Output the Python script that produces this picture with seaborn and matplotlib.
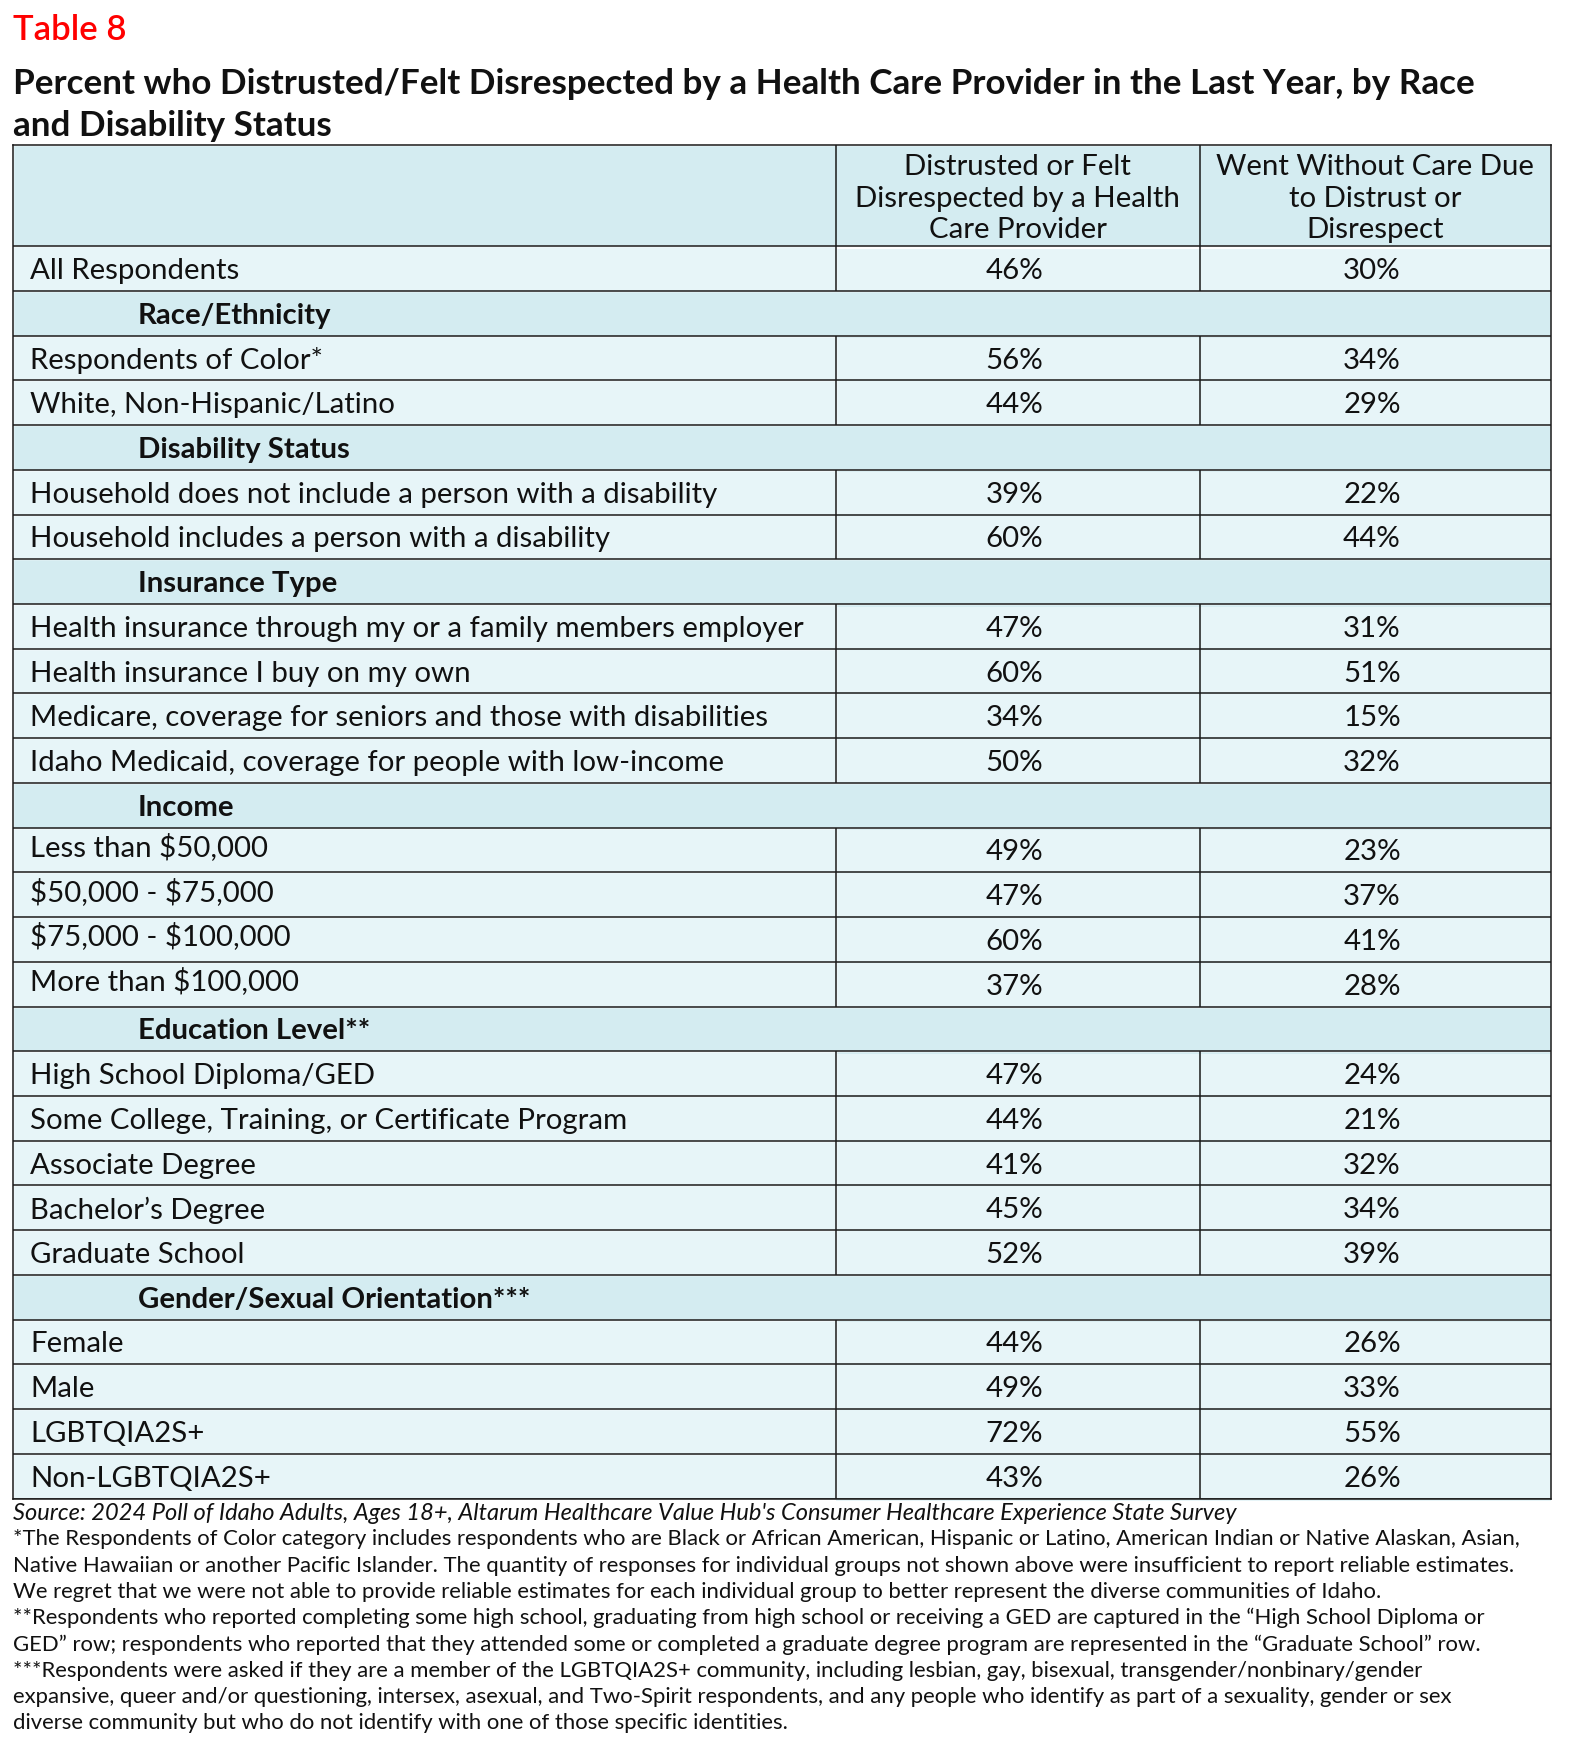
import numpy as np
import pandas as pd
import matplotlib
matplotlib.use("Agg")
import matplotlib.pyplot as plt
from matplotlib.colors import ListedColormap
import seaborn as sns

sns.set_theme(style="white")
plt.rcParams['font.family'] = ['Lato', 'DejaVu Sans']
plt.rcParams['text.parse_math'] = False

# ---------------- data ----------------
table_label = "Table 8"
title_lines = ["Percent who Distrusted/Felt Disrespected by a Health Care Provider in the Last Year, by Race",
               "and Disability Status"]
col_headers = ["Distrusted or Felt\nDisrespected by a Health\nCare Provider",
               "Went Without Care Due\nto Distrust or\nDisrespect"]

row_labels = ["All Respondents",
              "Race/Ethnicity",
              "Respondents of Color*", "White, Non-Hispanic/Latino",
              "Disability Status",
              "Household does not include a person with a disability",
              "Household includes a person with a disability",
              "Insurance Type",
              "Health insurance through my or a family members employer",
              "Health insurance I buy on my own",
              "Medicare, coverage for seniors and those with disabilities",
              "Idaho Medicaid, coverage for people with low-income",
              "Income",
              "Less than $50,000", "$50,000 - $75,000", "$75,000 - $100,000", "More than $100,000",
              "Education Level**",
              "High School Diploma/GED", "Some College, Training, or Certificate Program",
              "Associate Degree", "Bachelor\u2019s Degree", "Graduate School",
              "Gender/Sexual Orientation***",
              "Female", "Male", "LGBTQIA2S+", "Non-LGBTQIA2S+"]
is_section = [False, True, False, False, True, False, False, True, False, False, False, False,
              True, False, False, False, False, True, False, False, False, False, False,
              True, False, False, False, False]
distrusted = [46, None, 56, 44, None, 39, 60, None, 47, 60, 34, 50,
              None, 49, 47, 60, 37, None, 47, 44, 41, 45, 52, None, 44, 49, 72, 43]
went_without = [30, None, 34, 29, None, 22, 44, None, 31, 51, 15, 32,
                None, 23, 37, 41, 28, None, 24, 21, 32, 34, 39, None, 26, 33, 55, 26]

footnotes = [
    "*The Respondents of Color category includes respondents who are Black or African American, Hispanic or Latino, American Indian or Native Alaskan, Asian,",
    "Native Hawaiian or another Pacific Islander. The quantity of responses for individual groups not shown above were insufficient to report reliable estimates.",
    "We regret that we were not able to provide reliable estimates for each individual group to better represent the diverse communities of Idaho.",
    "**Respondents who reported completing some high school, graduating from high school or receiving a GED are captured in the \u201cHigh School Diploma or",
    "GED\u201d row; respondents who reported that they attended some or completed a graduate degree program are represented in the \u201cGraduate School\u201d row.",
    "***Respondents were asked if they are a member of the LGBTQIA2S+ community, including lesbian, gay, bisexual, transgender/nonbinary/gender",
    "expansive, queer and/or questioning, intersex, asexual, and Two-Spirit respondents, and any people who identify as part of a sexuality, gender or sex",
    "diverse community but who do not identify with one of those specific identities.",
]
source_line = "Source: 2024 Poll of Idaho Adults, Ages 18+, Altarum Healthcare Value Hub's Consumer Healthcare Experience State Survey"

# ---------------- layout (pixel coords) ----------------
W, H = 1572, 1747
HEAD_BG = "#d4ecf1"
ROW_BG = "#e7f5f8"
LINE = "#1a1a1a"
TXT = "#111111"
FS = 21.2
x0, x1, x2, x3 = 13.4, 835.6, 1199.9, 1550.8
ytop, yhead, ybot = 144.8, 246.2, 1498.5
n = len(row_labels)
rh = (ybot - yhead) / n
dy = 2.5            # slight downward text shift inside rows
raised_rows = {13, 14, 15, 16}   # income labels sit a little higher in the source

fig = plt.figure(figsize=(W / 100, H / 100), dpi=100)
fig.patch.set_facecolor("white")

def fx(x):
    return x / W

def fy(y):
    return 1 - y / H

# heatmap for value cells
vals = pd.DataFrame({"d": distrusted, "w": went_without}, dtype=float)
annot = vals.map(lambda v: "" if np.isnan(v) else f"{int(v)}%")
axh = fig.add_axes([fx(x1), fy(ybot + dy), fx(x3) - fx(x1), fy(yhead + dy) - fy(ybot + dy)])
sns.heatmap(vals, ax=axh, mask=vals.isna(), cmap=ListedColormap([ROW_BG]), cbar=False,
            annot=annot, fmt="", linewidths=0, xticklabels=False, yticklabels=False,
            annot_kws=dict(fontsize=FS, color=TXT, family=["Lato", "DejaVu Sans"]))
axh.set_facecolor(HEAD_BG)
for s in axh.spines.values():
    s.set_visible(False)

# main overlay axes (pixel coordinates)
ax = fig.add_axes([fx(x0), fy(ybot), fx(x3) - fx(x0), fy(ytop) - fy(ybot)], zorder=3)
ax.patch.set_alpha(0)
ax.set_xlim(x0, x3)
ax.set_ylim(ybot, ytop)
ax.set_xticks([]); ax.set_yticks([])
for s in ax.spines.values():
    s.set_visible(True); s.set_color(LINE); s.set_linewidth(1.1)

centers = np.array([yhead + (i + 0.5) * rh for i in range(n)])
sec = np.array(is_section)
# header background
ax.barh([(ytop + yhead) / 2], [x3 - x0], left=x0, height=yhead - ytop, color=HEAD_BG, zorder=1)
# label-column backgrounds
ax.barh(centers[~sec], [x1 - x0] * int((~sec).sum()), left=x0, height=rh, color=ROW_BG, zorder=1)
# section rows full width
ax.barh(centers[sec], [x3 - x0] * int(sec.sum()), left=x0, height=rh, color=HEAD_BG, zorder=1)

# grid lines
bounds = [yhead + i * rh for i in range(n + 1)]
ax.hlines(bounds, x0, x3, color=LINE, lw=1.1, zorder=4)
ax.vlines([x1, x2], ytop, yhead, color=LINE, lw=1.1, zorder=4)
for i in range(n):
    if not is_section[i]:
        ax.vlines([x1, x2], bounds[i], bounds[i + 1], color=LINE, lw=1.1, zorder=4)

# column headers
for cx, txt in zip([(x1 + x2) / 2, (x2 + x3) / 2], col_headers):
    ax.text(cx, (ytop + yhead) / 2 + 3, txt, ha="center", va="center", fontsize=FS,
            linespacing=1.25, color=TXT, zorder=5)

# row labels
for i, lab in enumerate(row_labels):
    off = dy - 5.5 if i in raised_rows else dy
    if is_section[i]:
        ax.text(138, centers[i] + off, lab, ha="left", va="center", fontsize=FS,
                fontweight="bold", color=TXT, zorder=5)
    else:
        ax.text(30, centers[i] + off, lab, ha="left", va="center", fontsize=FS,
                color=TXT, zorder=5)

# title
fig.text(fx(13), fy(30.5), table_label, ha="left", va="center", fontsize=25,
         color="#ff0000", fontweight="semibold")
fig.text(fx(13), fy(84.5), title_lines[0], ha="left", va="center", fontsize=25.2,
         fontweight="bold", color=TXT)
fig.text(fx(13), fy(125.5), title_lines[1], ha="left", va="center", fontsize=25.2,
         fontweight="bold", color=TXT)

# footnotes
fy0 = 1513
step = 26.3
fig.text(fx(13), fy(fy0), source_line, ha="left", va="center", fontsize=17,
         style="italic", color=TXT)
for k, line in enumerate(footnotes):
    fig.text(fx(13), fy(fy0 + (k + 1) * step), line, ha="left", va="center",
             fontsize=15.9, color=TXT)

fig.savefig("out.png", dpi=100, facecolor="white")
